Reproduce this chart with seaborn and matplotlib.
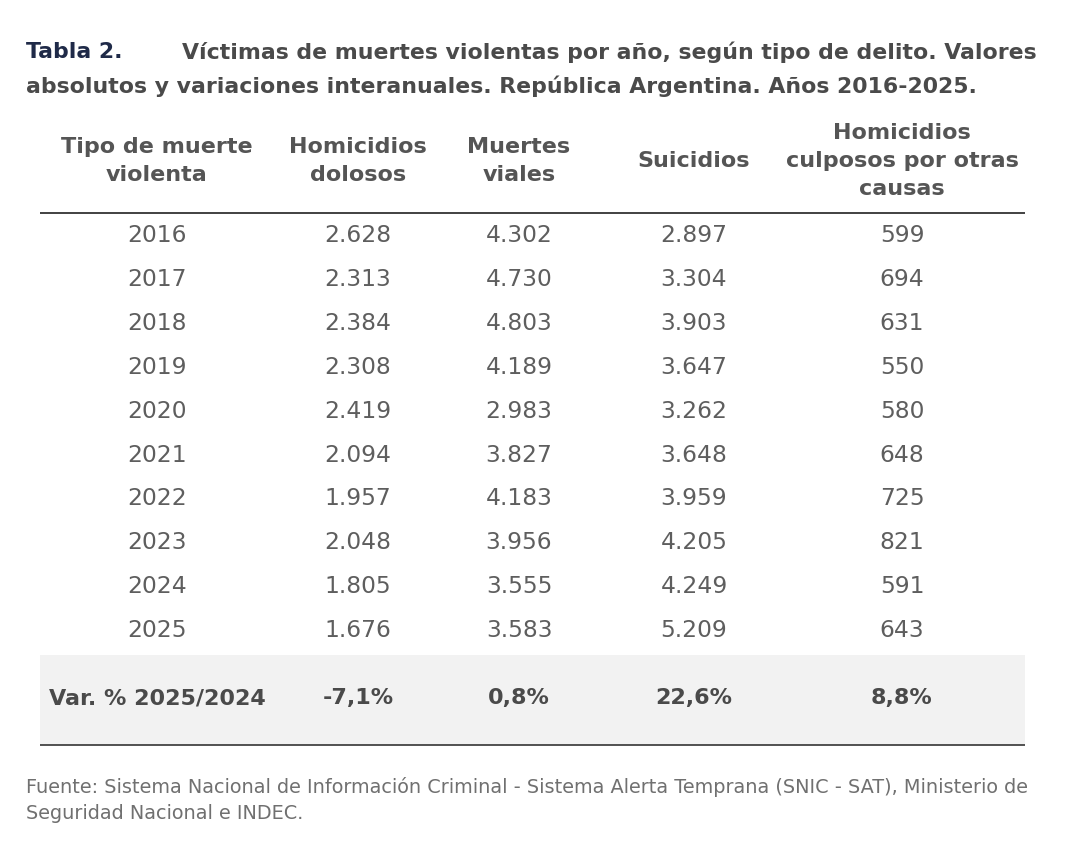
import matplotlib
matplotlib.use("Agg")
import matplotlib.pyplot as plt
import seaborn as sns

sns.set_theme(style="white")
plt.rcParams['font.family'] = ['DejaVu Sans']

# ---- data ----
years = ["2016", "2017", "2018", "2019", "2020", "2021", "2022", "2023", "2024", "2025"]
homicidios_dolosos = [2628, 2313, 2384, 2308, 2419, 2094, 1957, 2048, 1805, 1676]
muertes_viales = [4302, 4730, 4803, 4189, 2983, 3827, 4183, 3956, 3555, 3583]
suicidios = [2897, 3304, 3903, 3647, 3262, 3648, 3959, 4205, 4249, 5209]
homicidios_culposos = [599, 694, 631, 550, 580, 648, 725, 821, 591, 643]
var_label = "Var. % 2025/2024"
var_values = ["-7,1%", "0,8%", "22,6%", "8,8%"]
headers = ["Tipo de muerte\nviolenta", "Homicidios\ndolosos", "Muertes\nviales",
           "Suicidios", "Homicidios\nculposos por otras\ncausas"]
title_prefix = "Tabla 2."
title_line1 = "Víctimas de muertes violentas por año, según tipo de delito. Valores"
title_line2 = "absolutos y variaciones interanuales. República Argentina. Años 2016-2025."
source = ("Fuente: Sistema Nacional de Información Criminal - Sistema Alerta Temprana (SNIC - SAT), Ministerio de\n"
          "Seguridad Nacional e INDEC.")

def fmt(v):
    return f"{v:,}".replace(",", ".")

W, H = 1069, 867
fig = plt.figure(figsize=(W / 100, H / 100), dpi=100)
ax = fig.add_axes([0, 0, 1, 1])
ax.set_xlim(0, W)
ax.set_ylim(H, 0)
ax.axis("off")

col_edges = [40, 280, 446, 618, 789, 1025]
col_centers = [157, 358, 519, 694, 902]
txt = "#555555"
fs_title = 15.8
fs_head = 16
fs = 16.8

# title
ax.text(26, 52, title_prefix, fontsize=fs_title, fontweight="bold", color="#1f2a48", va="center", ha="left")
ax.text(182, 52, title_line1, fontsize=fs_title, fontweight="bold", color="#4a4a4a", va="center", ha="left")
ax.text(26, 86, title_line2, fontsize=fs_title, fontweight="bold", color="#4a4a4a", va="center", ha="left")

# header
header_y = 161
for cx, h in zip(col_centers, headers):
    ax.text(cx, header_y, h, fontsize=fs_head, fontweight="bold", color=txt, ha="center", va="center",
            linespacing=1.5)
ax.hlines(213, col_edges[0], col_edges[-1], color="#333333", lw=1.3)

# body rows
y0, row_h = 236, 43.8
cols = [homicidios_dolosos, muertes_viales, suicidios, homicidios_culposos]
for i, yr in enumerate(years):
    y = y0 + i * row_h
    ax.text(col_centers[0], y, yr, fontsize=fs, color="#5e5e5e", ha="center", va="center")
    for j, series in enumerate(cols):
        ax.text(col_centers[j + 1], y, fmt(series[i]), fontsize=fs, color="#5e5e5e", ha="center", va="center")

# variation row
ax.axhspan(655, 745, xmin=col_edges[0] / W, xmax=col_edges[-1] / W, color="#f2f2f2", lw=0)
ax.text(col_centers[0], 698, var_label, fontsize=fs_head, fontweight="bold", color="#4a4a4a", ha="center", va="center")
for j, v in enumerate(var_values):
    ax.text(col_centers[j + 1], 698, v, fontsize=fs_head, fontweight="bold", color="#4a4a4a", ha="center", va="center")
ax.hlines(745, col_edges[0], col_edges[-1], color="#444444", lw=1.3)

# source
ax.text(26, 800, source, fontsize=13.9, color="#707070", ha="left", va="center", linespacing=1.45)

fig.savefig("out.png", dpi=100, facecolor="white")
